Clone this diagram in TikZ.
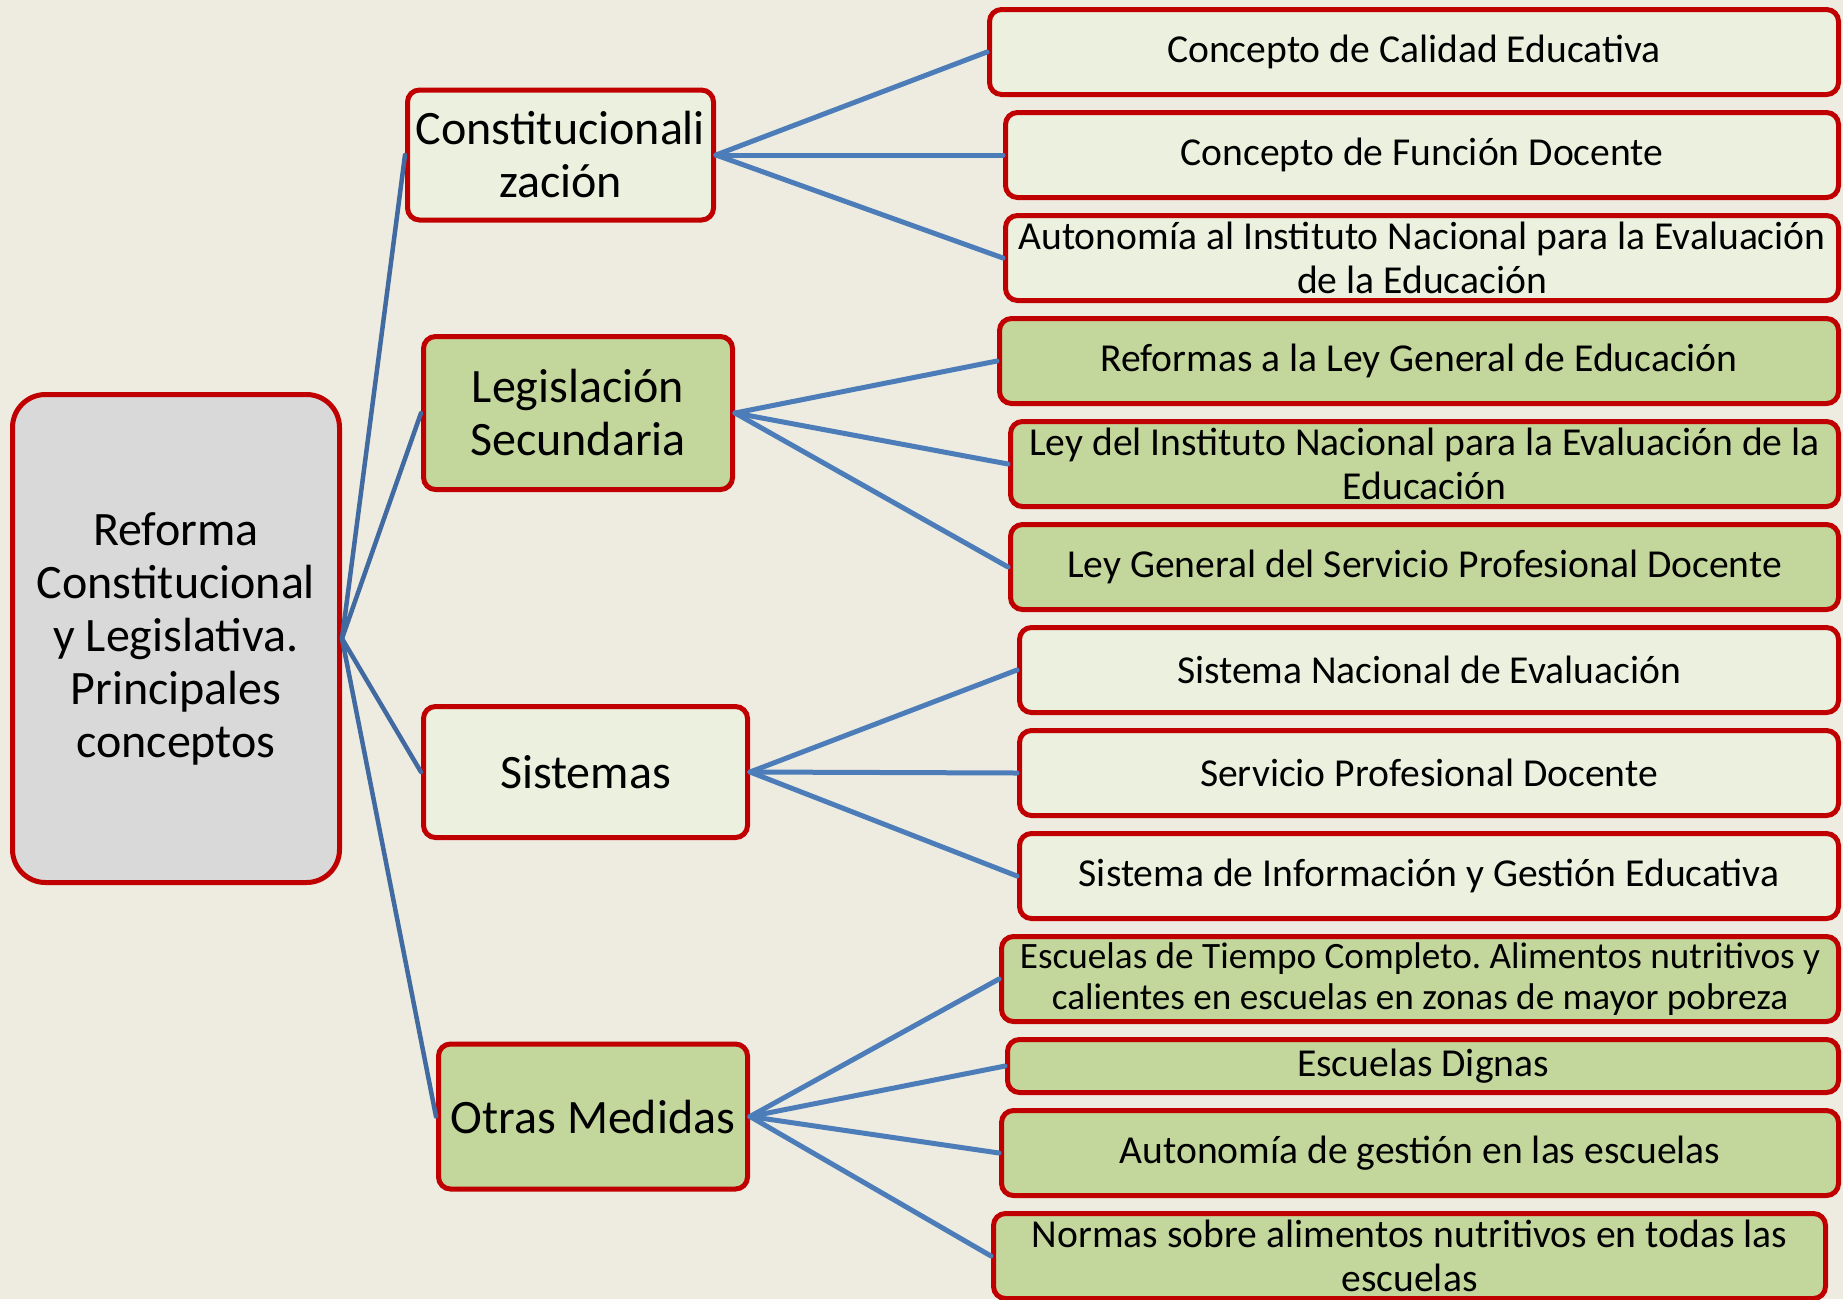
\documentclass[tikz,border=0pt]{standalone}
\usepackage{fontspec}
\setmainfont{Carlito}
\usetikzlibrary{positioning}
\definecolor{bgtan}{RGB}{238,236,225}
\definecolor{rimred}{RGB}{192,0,0}
\definecolor{paleleaf}{RGB}{235,241,222}
\definecolor{sagegreen}{RGB}{195,214,155}
\definecolor{rootgray}{RGB}{217,217,217}
\definecolor{trunkblue}{RGB}{65,106,160}
\definecolor{twigblue}{RGB}{76,125,185}
\def\BigFont{\fontsize{48}{53}\selectfont}
\def\LeafFont{\fontsize{39.6}{44}\selectfont}
\def\TightFont{\fontsize{37.2}{41}\selectfont}
\frenchspacing

\begin{document}
\begin{tikzpicture}[x=1pt,y=-1pt,% one unit per pixel, y grows downwards
			every node/.style={
				align=center,  		% "\\" breaks the lines
				rectangle,
				inner sep=0pt,
				line width=5pt,
				draw=rimred
			},
			rootbox/.style={fill=rootgray,rounded corners=33pt,minimum width=327pt,minimum height=488pt,font=\BigFont},
			midbox/.style={rounded corners=12pt,font=\BigFont},
			leafbox/.style={rounded corners=12pt,minimum height=85pt,font=\LeafFont},
			pale/.style={fill=paleleaf},
			sage/.style={fill=sagegreen},
			every edge/.style={draw,line cap=round},
			trunk/.style={draw=trunkblue,line width=4.5pt},
			twig/.style={draw=twigblue,line width=5pt}
		]
		\fill[bgtan] (0,0) rectangle (1843,1299);
		\useasboundingbox (0,0) rectangle (1843,1299);
		% root and the four branches
		\node[rootbox](R1) at (176,638.5){Reforma\\Constitucional\\y Legislativa.\\Principales\\conceptos};
		\node[midbox,pale,minimum width=306pt,minimum height=130pt](C1) at (560.5,155){Constitucionali\\zación};
		\node[midbox,sage,minimum width=309pt,minimum height=153pt](C2) at (578,413){Legislación\\Secundaria};
		\node[midbox,pale,minimum width=324pt,minimum height=131pt](C3) at (585.5,772){Sistemas};
		\node[midbox,sage,minimum width=309pt,minimum height=145pt](C4) at (593,1116.5){Otras Medidas};
		% leaves, stacked from the top right corner
		\node[leafbox,pale,minimum width=849pt,anchor=north east](L1) at (1841,7){Concepto de Calidad Educativa};
		\node[leafbox,pale,minimum width=833pt](L2)[below=13pt of L1.south east,anchor=north east]{Concepto de Función Docente};
		\node[leafbox,pale,minimum width=833pt](L3)[below=13pt of L2.south east,anchor=north east]{Autonomía al Instituto Nacional para la Evaluación\\de la Educación};
		\node[leafbox,sage,minimum width=839pt](L4)[below=13pt of L3.south east,anchor=north east]{Reformas a la Ley General de Educación};
		\node[leafbox,sage,minimum width=828pt](L5)[below=13pt of L4.south east,anchor=north east]{Ley del Instituto Nacional para la Evaluación de la\\Educación};
		\node[leafbox,sage,minimum width=828pt](L6)[below=13pt of L5.south east,anchor=north east]{Ley General del Servicio Profesional Docente};
		\node[leafbox,pale,minimum width=819pt](L7)[below=13pt of L6.south east,anchor=north east]{Sistema Nacional de Evaluación};
		\node[leafbox,pale,minimum width=819pt](L8)[below=13pt of L7.south east,anchor=north east]{Servicio Profesional Docente};
		\node[leafbox,pale,minimum width=819pt](L9)[below=13pt of L8.south east,anchor=north east]{Sistema de Información y Gestión Educativa};
		\node[leafbox,sage,minimum width=837pt,font=\TightFont](L10)[below=13pt of L9.south east,anchor=north east]{Escuelas de Tiempo Completo. Alimentos nutritivos y\\calientes en escuelas en zonas de mayor pobreza};
		\node[leafbox,sage,minimum width=831pt,minimum height=53pt](L11)[below=13pt of L10.south east,anchor=north east]{Escuelas Dignas};
		\node[leafbox,sage,minimum width=837pt](L12)[below=13pt of L11.south east,anchor=north east]{Autonomía de gestión en las escuelas};
		\node[leafbox,sage,minimum width=832pt](L13)[below=13pt of L12.south east,anchor=north east,xshift=-13pt]{Normas sobre alimentos nutritivos en todas las\\escuelas};
		\path
		(R1.east) edge [trunk] (C1.west)
		(R1.east) edge [trunk] (C2.west)
		(R1.east) edge [trunk] (C3.west)
		(R1.east) edge [trunk] (C4.west)
		(C1.east) edge [twig] (L1.west)
		(C1.east) edge [twig] (L2.west)
		(C1.east) edge [twig] (L3.west)
		(C2.east) edge [twig] (L4.west)
		(C2.east) edge [twig] (L5.west)
		(C2.east) edge [twig] (L6.west)
		(C3.east) edge [twig] (L7.west)
		(C3.east) edge [twig] (L8.west)
		(C3.east) edge [twig] (L9.west)
		(C4.east) edge [twig] (L10.west)
		(C4.east) edge [twig] (L11.west)
		(C4.east) edge [twig] (L12.west)
		(C4.east) edge [twig] (L13.west)
		;
	\end{tikzpicture}
\end{document}
